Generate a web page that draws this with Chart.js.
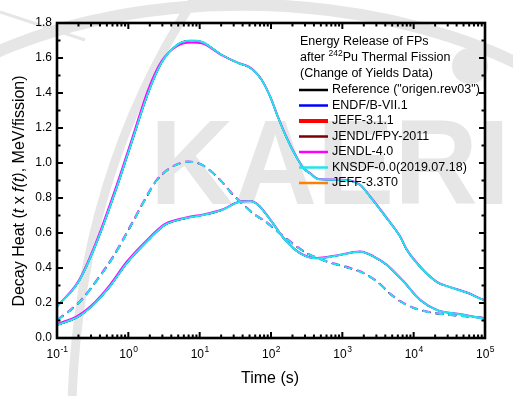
<!DOCTYPE html>
<html>
<head>
<meta charset="utf-8">
<script src="https://cdn.jsdelivr.net/npm/chart.js@4"></script>
<style>
  html, body { margin: 0; padding: 0; background: #fff; }
  #wrap { width: 513px; height: 396px; }
</style>
</head>
<body>
<div id="wrap"><canvas id="decayHeat" width="513" height="396"></canvas></div>
<script>
// ---- data (time in s, decay heat t*f(t) in MeV/fission) ----
const libraries = ['Reference ("origen.rev03")', 'ENDF/B-VII.1', 'JEFF-3.1.1', 'JENDL/FPY-2011', 'JENDL-4.0', 'KNSDF-0.0(2019.07.18)', 'JEFF-3.3T0'];
const libColors = ['#000000', '#0000ff', '#ff0000', '#7f0000', '#ff00ff', '#22e4ee', '#ff8000'];

const tTotal = [0.1, 0.2, 0.34, 0.65, 1.06, 1.9, 2.9, 4.8, 7.7, 10.7, 20, 35, 48, 60, 74, 97, 127, 167, 218, 285, 353, 462, 931, 1778, 2455, 4200, 6460, 8030, 12300, 21100, 32500, 55700, 90400, 100000];
const totalRef = [0.18, 0.32, 0.52, 0.83, 1.09, 1.40, 1.57, 1.675, 1.70, 1.693, 1.62, 1.57, 1.55, 1.52, 1.474, 1.38, 1.255, 1.14, 1.046, 0.97, 0.94, 0.907, 0.903, 0.874, 0.807, 0.684, 0.579, 0.503, 0.407, 0.32, 0.29, 0.259, 0.221, 0.215];
const totalJendl4 = [0.18, 0.325, 0.53, 0.845, 1.105, 1.42, 1.58, 1.668, 1.688, 1.684, 1.618, 1.572, 1.552, 1.522, 1.476, 1.382, 1.258, 1.143, 1.048, 0.972, 0.942, 0.909, 0.905, 0.876, 0.809, 0.686, 0.581, 0.505, 0.409, 0.321, 0.291, 0.26, 0.222, 0.216];

const tBeta = [0.1, 0.21, 0.38, 0.62, 1.17, 1.71, 2.5, 3.85, 6.9, 10.7, 18.3, 28, 41, 60, 83, 149, 318, 607, 1290, 1980, 3050, 5210, 8930, 15300, 32500, 100000];
const betaRef = [0.10, 0.207, 0.34, 0.465, 0.665, 0.79, 0.90, 0.97, 1.007, 0.99, 0.913, 0.827, 0.76, 0.703, 0.665, 0.58, 0.484, 0.436, 0.398, 0.37, 0.322, 0.236, 0.179, 0.15, 0.131, 0.115];
const betaJendl4 = [0.102, 0.21, 0.344, 0.47, 0.67, 0.794, 0.903, 0.972, 1.008, 0.99, 0.914, 0.829, 0.762, 0.705, 0.667, 0.582, 0.486, 0.438, 0.4, 0.372, 0.324, 0.238, 0.181, 0.152, 0.132, 0.116];

const tGamma = [0.1, 0.2, 0.34, 0.55, 0.95, 1.91, 3.27, 6.3, 11.3, 20.4, 37, 51, 66, 102, 150, 264, 437, 836, 1778, 2730, 4200, 7200, 12300, 21100, 41400, 100000];
const gammaRef = [0.074, 0.122, 0.198, 0.293, 0.427, 0.56, 0.646, 0.684, 0.703, 0.731, 0.779, 0.782, 0.76, 0.665, 0.57, 0.48, 0.455, 0.47, 0.493, 0.465, 0.417, 0.322, 0.217, 0.16, 0.137, 0.11];
const gammaJendl4 = [0.08, 0.13, 0.205, 0.302, 0.436, 0.568, 0.652, 0.688, 0.706, 0.733, 0.78, 0.783, 0.762, 0.667, 0.572, 0.482, 0.457, 0.472, 0.495, 0.467, 0.419, 0.324, 0.219, 0.161, 0.138, 0.111];

const yTicks = [0.0, 0.2, 0.4, 0.6, 0.8, 1.0, 1.2, 1.4, 1.6, 1.8];
const xDecades = [-1, 0, 1, 2, 3, 4, 5];

const FONT = '"Liberation Sans", Arial, sans-serif';

function pts(t, v) { return t.map((x, i) => ({ x: x, y: v[i] })); }

var datasets = [];
libraries.forEach(function (name, k) {
  var isJ4 = name === 'JENDL-4.0';
  var isKn = name.indexOf('KNSDF') === 0;
  var ord = isKn ? 0 : (isJ4 ? 1 : 2 + k);
  var curves = [
    { d: pts(tTotal, isJ4 ? totalJendl4 : totalRef), dash: [] },
    { d: pts(tBeta, isJ4 ? betaJendl4 : betaRef), dash: [8, 5] },
    { d: pts(tGamma, isJ4 ? gammaJendl4 : gammaRef), dash: [] },
  ];
  curves.forEach(function (c) {
    datasets.push({
      label: name,
      data: c.d,
      borderColor: libColors[k],
      // the libraries that sit exactly under KNSDF are kept thinner so they stay covered
      borderWidth: (isKn || isJ4) ? 2 : 1.2,
      borderDash: c.dash,
      pointRadius: 0,
      cubicInterpolationMode: 'monotone',
      fill: false,
      order: ord,
    });
  });
});

// watermark behind everything
const watermark = {
  id: 'watermark',
  beforeDraw: function (chart) {
    const c = chart.ctx;
    c.save();
    c.fillStyle = '#fff';
    c.fillRect(0, 0, chart.width, chart.height);
    c.strokeStyle = '#e6e6e6';
    c.lineWidth = 12;
    c.beginPath();
    c.ellipse(256, 250, 420, 245, 0.03, Math.PI * 1.05, Math.PI * 1.95);
    c.stroke();
    c.lineWidth = 9;
    c.beginPath();
    c.moveTo(72, 400);
    c.quadraticCurveTo(80, 170, 200, -10);
    c.stroke();
    c.lineWidth = 3;
    c.beginPath();
    c.moveTo(0, 12);
    c.lineTo(85, 40);
    c.stroke();
    c.fillStyle = '#e6e6e6';
    c.beginPath();
    c.arc(470, 66, 18, 0, Math.PI * 2);
    c.fill();
    c.font = 'bold 120px ' + FONT;
    c.textBaseline = 'alphabetic';
    c.fillText('KAERI', 150, 204, 360);
    c.restore();
  }
};

// frame, inward ticks, tick labels, axis titles and the in-plot legend
const frame = {
  id: 'frame',
  afterDatasetsDraw: function (chart) {
    const c = chart.ctx, a = chart.chartArea;
    const xs = chart.scales.x, ys = chart.scales.y;
    c.save();
    c.strokeStyle = '#000';
    c.fillStyle = '#000';

    // ticks
    c.lineWidth = 2;
    function vtick(x, len) {
      c.beginPath(); c.moveTo(x, a.bottom); c.lineTo(x, a.bottom - len); c.stroke();
      c.beginPath(); c.moveTo(x, a.top); c.lineTo(x, a.top + len); c.stroke();
    }
    function htick(y, len) {
      c.beginPath(); c.moveTo(a.left, y); c.lineTo(a.left + len, y); c.stroke();
      c.beginPath(); c.moveTo(a.right, y); c.lineTo(a.right - len, y); c.stroke();
    }
    xDecades.forEach(function (e) {
      vtick(xs.getPixelForValue(Math.pow(10, e)), 6);
      if (e < 5) for (var m = 2; m < 10; m++) vtick(xs.getPixelForValue(m * Math.pow(10, e)), 3.5);
    });
    for (var i = 0; i < yTicks.length; i++) {
      htick(ys.getPixelForValue(yTicks[i]), 6);
      if (i < yTicks.length - 1) htick(ys.getPixelForValue(yTicks[i] + 0.1), 3.5);
    }

    c.lineWidth = 2.6;
    c.strokeRect(a.left, a.top, a.right - a.left, a.bottom - a.top);

    // y tick labels
    c.font = '12px ' + FONT;
    c.textAlign = 'right';
    c.textBaseline = 'middle';
    yTicks.forEach(function (v) { c.fillText(v.toFixed(1), a.left - 5, ys.getPixelForValue(v)); });

    // x tick labels 10^n
    c.textBaseline = 'alphabetic';
    c.textAlign = 'left';
    xDecades.forEach(function (e) {
      var px = xs.getPixelForValue(Math.pow(10, e));
      c.font = '12px ' + FONT;
      var w1 = c.measureText('10').width;
      c.font = '8.5px ' + FONT;
      var sup = e < 0 ? '-' + (-e) : String(e);
      var w2 = c.measureText(sup).width;
      var x0 = px - (w1 + w2) / 2;
      c.font = '12px ' + FONT;
      c.fillText('10', x0, a.bottom + 20);
      c.font = '8.5px ' + FONT;
      c.fillText(sup, x0 + w1 + 0.5, a.bottom + 14);
    });

    // axis titles
    c.font = '16px ' + FONT;
    c.textAlign = 'center';
    c.fillText('Time (s)', (a.left + a.right) / 2 - 1, 383);

    var parts = [['Decay Heat (', ''], ['t', 'italic '], [' x ', ''], ['f(t)', 'italic '], [', MeV/fission)', '']];
    var total = 0;
    parts.forEach(function (p) { c.font = p[1] + '16px ' + FONT; p.push(c.measureText(p[0]).width); total += p[2]; });
    c.translate(24, 191);
    c.rotate(-Math.PI / 2);
    c.textAlign = 'left';
    var xx = -total / 2;
    parts.forEach(function (p) { c.font = p[1] + '16px ' + FONT; c.fillText(p[0], xx, 0); xx += p[2]; });
    c.setTransform(1, 0, 0, 1, 0, 0);

    // legend block
    c.font = '12.5px ' + FONT;
    c.textAlign = 'left';
    c.textBaseline = 'middle';
    c.fillText('Energy Release of FPs', 300, 42);
    c.fillText('after ', 300, 58);
    var wa = c.measureText('after ').width;
    c.font = '8.5px ' + FONT;
    c.fillText('242', 300 + wa, 54);
    var ws = c.measureText('242').width;
    c.font = '12.5px ' + FONT;
    c.fillText('Pu Thermal Fission', 300 + wa + ws, 58);
    c.fillText('(Change of Yields Data)', 300, 74);
    libraries.forEach(function (name, k) {
      var y = 90 + k * 15.5;
      c.strokeStyle = libColors[k];
      c.lineWidth = name === 'JEFF-3.1.1' ? 4 : 2.5;
      c.beginPath(); c.moveTo(299, y); c.lineTo(328, y); c.stroke();
      c.fillStyle = '#000';
      c.fillText(name, 332, y);
    });
    c.restore();
  }
};

var ctx = document.getElementById('decayHeat');
var decayChart = new Chart(ctx, {
  type: 'line',
  data: { datasets: datasets },
  options: {
    responsive: false,
    animation: false,
    layout: { padding: { left: 57, right: 28, top: 23, bottom: 58 } },
    plugins: { legend: { display: false }, tooltip: { enabled: false } },
    scales: {
      x: { type: 'logarithmic', min: 0.1, max: 100000, display: false },
      y: { type: 'linear', min: 0, max: 1.8, display: false },
    },
  },
  plugins: [watermark, frame],
});
</script>
</body>
</html>
